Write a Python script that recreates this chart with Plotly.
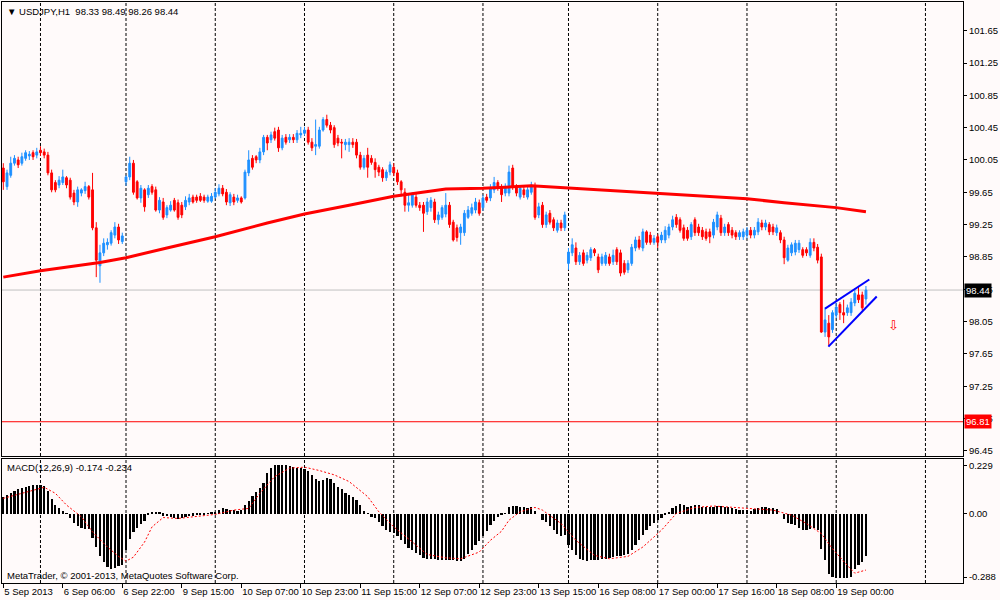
import plotly.graph_objects as go
from plotly.subplots import make_subplots

# ------------------------
# USDJPY H1 candles (one entry per bar)
# ------------------------

opens = [
    99.95, 99.72, 99.86, 100.01, 100.05, 100.01, 100.07, 100.10, 100.14, 100.11,
    100.17, 100.15, 100.11, 99.89, 99.77, 99.74, 99.77, 99.83, 99.80, 99.64,
    99.53, 99.64, 99.67, 99.72, 99.68, 99.21, 98.74, 98.90, 99.00, 99.02,
    99.12, 99.22, 99.04, 99.78, 99.84, 100.01, 99.78, 99.58, 99.68, 99.62,
    99.72, 99.68, 99.43, 99.53, 99.37, 99.43, 99.55, 99.52, 99.49, 99.47,
    99.53, 99.59, 99.59, 99.60, 99.59, 99.54, 99.54, 99.59, 99.63, 99.70,
    99.65, 99.52, 99.59, 99.55, 99.58, 99.58, 99.89, 100.07, 100.09, 100.05,
    100.15, 100.33, 100.30, 100.40, 100.42, 100.20, 100.33, 100.30, 100.33, 100.30,
    100.36, 100.38, 100.42, 100.27, 100.22, 100.22, 100.42, 100.55, 100.48, 100.45,
    100.32, 100.27, 100.24, 100.24, 100.27, 100.27, 100.11, 99.96, 100.11, 100.07,
    100.02, 99.96, 99.93, 99.83, 99.90, 99.96, 99.89, 99.78, 99.65, 99.49,
    99.49, 99.59, 99.49, 99.49, 99.41, 99.46, 99.53, 99.31, 99.34, 99.38,
    99.49, 99.28, 99.21, 99.15, 99.15, 99.34, 99.39, 99.43, 99.52, 99.46,
    99.59, 99.58, 99.68, 99.77, 99.72, 99.64, 99.64, 99.95, 99.72, 99.59,
    99.68, 99.59, 99.65, 99.72, 99.37, 99.49, 99.25, 99.39, 99.31, 99.18,
    99.27, 99.21, 98.77, 98.90, 98.96, 98.79, 98.90, 98.81, 98.84, 98.94,
    98.85, 98.77, 98.77, 98.85, 98.79, 98.94, 98.90, 98.77, 98.69, 98.77,
    98.96, 99.06, 98.96, 99.16, 99.12, 99.03, 99.10, 99.06, 99.06, 99.12,
    99.22, 99.34, 99.31, 99.21, 99.18, 99.10, 99.31, 99.22, 99.18, 99.16,
    99.16, 99.12, 99.22, 99.33, 99.15, 99.25, 99.18, 99.15, 99.10, 99.10,
    99.12, 99.18, 99.12, 99.16, 99.27, 99.22, 99.25, 99.22, 99.15, 99.15,
    99.06, 98.81, 98.90, 98.91, 98.94, 98.94, 98.94, 98.87, 99.03, 98.97,
    98.85, 97.92, 98.03, 97.95, 98.13, 98.26, 98.16, 98.16, 98.16, 98.28,
    98.38, 98.38, 98.33,
]

highs = [
    100.01, 99.93, 100.09, 100.11, 100.09, 100.14, 100.17, 100.16, 100.17, 100.20,
    100.22, 100.19, 100.15, 99.93, 99.80, 99.85, 99.93, 99.85, 99.83, 99.68,
    99.72, 99.70, 99.78, 99.74, 99.89, 99.28, 99.00, 99.08, 99.08, 99.18,
    99.28, 99.26, 99.15, 99.86, 100.09, 100.05, 99.80, 99.74, 99.70, 99.74,
    99.75, 99.72, 99.59, 99.58, 99.49, 99.54, 99.58, 99.56, 99.53, 99.60,
    99.63, 99.62, 99.62, 99.64, 99.62, 99.62, 99.64, 99.70, 99.75, 99.74,
    99.69, 99.65, 99.63, 99.62, 99.60, 99.93, 100.17, 100.11, 100.11, 100.20,
    100.36, 100.36, 100.40, 100.45, 100.46, 100.36, 100.37, 100.37, 100.37, 100.42,
    100.46, 100.46, 100.46, 100.32, 100.55, 100.46, 100.58, 100.61, 100.52, 100.48,
    100.36, 100.31, 100.31, 100.32, 100.32, 100.31, 100.15, 100.11, 100.20, 100.11,
    100.07, 99.99, 99.96, 99.93, 100.03, 100.01, 99.93, 99.80, 99.70, 99.62,
    99.65, 99.63, 99.53, 99.53, 99.58, 99.59, 99.57, 99.41, 99.49, 99.64,
    99.53, 99.31, 99.25, 99.26, 99.43, 99.48, 99.51, 99.58, 99.56, 99.62,
    99.63, 99.75, 99.84, 99.80, 99.75, 99.76, 99.98, 99.99, 99.75, 99.74,
    99.72, 99.72, 99.78, 99.77, 99.52, 99.53, 99.41, 99.43, 99.34, 99.31,
    99.31, 99.41, 98.96, 99.08, 99.03, 98.91, 98.94, 98.91, 98.97, 98.96,
    98.89, 98.89, 98.91, 98.89, 98.94, 98.97, 98.94, 98.81, 98.81, 99.01,
    99.10, 99.11, 99.20, 99.18, 99.16, 99.12, 99.13, 99.16, 99.23, 99.26,
    99.36, 99.38, 99.34, 99.25, 99.22, 99.28, 99.34, 99.26, 99.22, 99.20,
    99.20, 99.32, 99.41, 99.37, 99.26, 99.28, 99.22, 99.18, 99.18, 99.20,
    99.22, 99.22, 99.22, 99.33, 99.31, 99.31, 99.28, 99.26, 99.25, 99.18,
    99.10, 99.00, 99.03, 99.06, 99.06, 98.97, 98.97, 99.08, 99.08, 99.01,
    98.89, 98.22, 98.13, 98.19, 98.28, 98.29, 98.32, 98.26, 98.34, 98.44,
    98.48, 98.42, 98.49,
]

lows = [
    99.68, 99.68, 99.83, 99.98, 99.95, 99.98, 100.04, 100.05, 100.05, 100.07,
    100.10, 100.07, 99.86, 99.65, 99.65, 99.70, 99.74, 99.70, 99.56, 99.49,
    99.47, 99.60, 99.63, 99.56, 99.18, 98.60, 98.53, 98.86, 98.94, 98.99,
    99.08, 99.01, 99.01, 99.73, 99.80, 99.62, 99.56, 99.52, 99.41, 99.58,
    99.62, 99.41, 99.39, 99.31, 99.33, 99.41, 99.41, 99.31, 99.33, 99.43,
    99.49, 99.51, 99.52, 99.53, 99.52, 99.52, 99.52, 99.57, 99.60, 99.60,
    99.49, 99.48, 99.49, 99.52, 99.51, 99.56, 99.85, 99.93, 100.01, 100.01,
    100.11, 100.17, 100.26, 100.29, 100.15, 100.17, 100.24, 100.26, 100.26, 100.26,
    100.32, 100.35, 100.24, 100.16, 100.11, 100.19, 100.40, 100.45, 100.38, 100.20,
    100.22, 100.07, 100.17, 100.15, 100.20, 100.07, 99.93, 99.93, 99.83, 99.99,
    99.83, 99.85, 99.78, 99.79, 99.86, 99.85, 99.74, 99.60, 99.41, 99.41,
    99.46, 99.46, 99.42, 99.16, 99.37, 99.41, 99.27, 99.25, 99.31, 99.34,
    99.21, 99.04, 99.04, 99.00, 99.11, 99.32, 99.36, 99.39, 99.36, 99.42,
    99.52, 99.54, 99.64, 99.67, 99.53, 99.60, 99.60, 99.68, 99.60, 99.56,
    99.58, 99.56, 99.62, 99.31, 99.33, 99.21, 99.21, 99.25, 99.17, 99.15,
    99.17, 99.17, 98.69, 98.86, 98.75, 98.75, 98.74, 98.77, 98.80, 98.86,
    98.65, 98.74, 98.74, 98.74, 98.75, 98.75, 98.61, 98.63, 98.65, 98.74,
    98.92, 98.94, 98.92, 99.00, 99.00, 99.00, 98.96, 99.02, 99.02, 99.08,
    99.18, 99.21, 99.15, 99.05, 99.05, 99.06, 99.11, 99.11, 99.06, 99.05,
    99.02, 99.08, 99.18, 99.11, 99.11, 99.11, 99.08, 99.06, 99.06, 99.06,
    99.08, 99.08, 99.08, 99.12, 99.18, 99.18, 99.12, 99.12, 99.11, 99.02,
    98.76, 98.79, 98.86, 98.87, 98.90, 98.84, 98.86, 98.84, 98.92, 98.77,
    97.91, 97.86, 97.75, 97.91, 98.09, 98.07, 98.03, 98.12, 98.12, 98.24,
    98.28, 98.19, 98.26,
]

closes = [
    99.78, 99.89, 100.01, 100.07, 99.99, 100.09, 100.14, 100.12, 100.09, 100.15,
    100.14, 100.11, 99.89, 99.68, 99.68, 99.80, 99.84, 99.74, 99.59, 99.53,
    99.68, 99.68, 99.72, 99.59, 99.21, 98.81, 98.90, 99.02, 99.03, 99.15,
    99.22, 99.06, 99.11, 99.84, 100.01, 99.65, 99.58, 99.70, 99.47, 99.70,
    99.65, 99.43, 99.55, 99.34, 99.46, 99.49, 99.43, 99.34, 99.37, 99.55,
    99.58, 99.53, 99.55, 99.55, 99.55, 99.59, 99.60, 99.65, 99.70, 99.63,
    99.53, 99.62, 99.53, 99.58, 99.53, 99.90, 100.05, 99.96, 100.05, 100.15,
    100.33, 100.26, 100.36, 100.32, 100.20, 100.32, 100.27, 100.33, 100.30, 100.38,
    100.38, 100.42, 100.27, 100.20, 100.24, 100.42, 100.55, 100.48, 100.42, 100.24,
    100.26, 100.26, 100.27, 100.27, 100.24, 100.11, 99.96, 100.07, 99.96, 100.02,
    99.93, 99.90, 99.83, 99.90, 99.99, 99.89, 99.78, 99.68, 99.49, 99.52,
    99.62, 99.49, 99.46, 99.39, 99.53, 99.55, 99.31, 99.37, 99.46, 99.49,
    99.25, 99.06, 99.09, 99.22, 99.39, 99.43, 99.46, 99.53, 99.39, 99.58,
    99.55, 99.70, 99.77, 99.70, 99.62, 99.72, 99.90, 99.72, 99.64, 99.70,
    99.62, 99.68, 99.74, 99.34, 99.47, 99.25, 99.37, 99.28, 99.21, 99.27,
    99.21, 99.37, 98.91, 99.00, 98.79, 98.87, 98.77, 98.87, 98.94, 98.90,
    98.69, 98.85, 98.87, 98.77, 98.87, 98.79, 98.65, 98.66, 98.77, 98.97,
    99.06, 98.97, 99.16, 99.03, 99.03, 99.08, 99.03, 99.12, 99.18, 99.22,
    99.31, 99.25, 99.18, 99.08, 99.08, 99.25, 99.15, 99.15, 99.10, 99.08,
    99.10, 99.28, 99.37, 99.15, 99.22, 99.15, 99.12, 99.10, 99.15, 99.16,
    99.18, 99.12, 99.18, 99.28, 99.22, 99.27, 99.16, 99.16, 99.21, 99.06,
    98.84, 98.96, 99.00, 99.02, 99.02, 98.87, 98.90, 99.03, 98.96, 98.81,
    97.92, 98.07, 97.86, 98.16, 98.23, 98.16, 98.13, 98.22, 98.29, 98.40,
    98.32, 98.22, 98.44,
]

# slow moving average, read at a few bars
ma_bars = [0, 10, 26, 33, 44, 57, 71, 81, 93, 105, 119, 129, 142, 153, 162, 174, 200, 210, 224, 232]
ma_values = [98.60, 98.68, 98.78, 98.84, 98.96, 99.10, 99.27, 99.38, 99.49, 99.60,
             99.69, 99.70, 99.73, 99.70, 99.67, 99.64, 99.57, 99.52, 99.46, 99.41]

# ------------------------
# MACD(12,26,9)
# ------------------------

macd_hist = [
    0.072, 0.079, 0.089, 0.097, 0.103, 0.110, 0.114, 0.117, 0.120, 0.121, 0.122,
    0.117, 0.097, 0.061, 0.037, 0.023, 0.012, 0.002, -0.019, -0.037, -0.051,
    -0.058, -0.061, -0.061, -0.099, -0.138, -0.177, -0.201, -0.222, -0.229, -0.225,
    -0.219, -0.215, -0.152, -0.103, -0.075, -0.057, -0.040, -0.029, -0.006, 0.005,
    0.010, 0.004, -0.008, -0.010, -0.012, -0.015, -0.020, -0.015, -0.012, -0.010,
    -0.008, -0.006, -0.004, -0.002, 0.002, 0.006, 0.010, 0.018, 0.024, 0.020,
    0.016, 0.016, 0.014, 0.016, 0.036, 0.055, 0.075, 0.092, 0.110, 0.130,
    0.170, 0.191, 0.202, 0.206, 0.206, 0.202, 0.198, 0.195, 0.191, 0.191,
    0.188, 0.177, 0.163, 0.145, 0.139, 0.141, 0.149, 0.145, 0.128, 0.114,
    0.103, 0.089, 0.079, 0.069, 0.058, 0.037, 0.013, 0.002, -0.012, -0.019,
    -0.033, -0.051, -0.068, -0.075, -0.079, -0.093, -0.110, -0.124, -0.141, -0.152,
    -0.163, -0.173, -0.183, -0.187, -0.187, -0.187, -0.191, -0.191, -0.191, -0.194,
    -0.194, -0.196, -0.197, -0.187, -0.169, -0.152, -0.131, -0.113, -0.093, -0.071,
    -0.047, -0.029, -0.012,
    -0.003, 0.003, 0.030, 0.032, 0.032, 0.030, 0.027,
    0.023, 0.030, 0.014, 0.000, -0.026, -0.033, -0.051, -0.068, -0.082, -0.093,
    -0.089, -0.131, -0.152, -0.173, -0.187, -0.194, -0.197, -0.194, -0.191, -0.191,
    -0.187, -0.187, -0.183, -0.180, -0.177, -0.177, -0.173, -0.166, -0.152, -0.131,
    -0.110, -0.089, -0.068, -0.051, -0.037, -0.026, -0.019, -0.005, 0.009, 0.023,
    0.032, 0.041, 0.037, 0.027, 0.032, 0.037, 0.037, 0.030, 0.027, 0.027,
    0.030, 0.034, 0.034, 0.030, 0.027, 0.023, 0.019, 0.016, 0.016, 0.016,
    0.013, 0.019, 0.023, 0.027, 0.027, 0.023, 0.023, 0.019, 0.000, -0.023,
    -0.037, -0.043, -0.047, -0.057, -0.065, -0.068, -0.061, -0.057, -0.068, -0.145,
    -0.194, -0.250, -0.261, -0.267, -0.267, -0.267, -0.267, -0.261, -0.229, -0.215,
    -0.201, -0.174,
]

signal_bars = [0, 5, 8, 11, 14, 17, 21, 24, 28, 31, 33, 35, 38, 40, 43, 47, 51, 57, 62, 66,
               69, 73, 77, 81, 85, 89, 93, 98, 101, 105, 110, 114, 119, 123, 128, 131, 134, 136, 139, 143,
               145, 150, 154, 159, 163, 168, 172, 177, 181, 186, 191, 197, 202, 207, 212, 216, 220, 223, 227, 229,
               232]
signal_values = [0.065, 0.086, 0.100, 0.111, 0.086, 0.037, -0.012, -0.075, -0.138, -0.177,
                 -0.197, -0.180, -0.117, -0.054, -0.015, -0.019, -0.012, -0.002, 0.016, 0.023,
                 0.086, 0.156, 0.191, 0.195, 0.181, 0.163, 0.135, 0.072, 0.009, -0.054,
                 -0.117, -0.169, -0.183, -0.187, -0.159, -0.110, -0.072, -0.026, 0.009, 0.027,
                 0.016, -0.040, -0.110, -0.173, -0.187, -0.177, -0.138, -0.068, 0.002, 0.027,
                 0.033, 0.027, 0.019, 0.016, -0.005, -0.040, -0.082, -0.145, -0.215, -0.247,
                 -0.234]

# ------------------------
# Axes labels and drawings
# ------------------------

time_tick_bars = [0, 16, 32, 48, 64, 80, 96, 112, 128, 144, 160, 176, 192, 208, 224]
time_tick_text = ["5 Sep 2013", "6 Sep 06:00", "6 Sep 22:00", "9 Sep 15:00", "10 Sep 07:00",
                  "10 Sep 23:00", "11 Sep 15:00", "12 Sep 07:00", "12 Sep 23:00", "13 Sep 15:00",
                  "16 Sep 08:00", "17 Sep 00:00", "17 Sep 16:00", "18 Sep 08:00", "19 Sep 00:00"]
grid_bars = [10, 33, 57, 81, 105, 129, 152, 176, 200, 224, 248]

price_ticks = [96.45, 96.85, 97.25, 97.65, 98.05, 98.45, 98.85, 99.25, 99.65,
               100.05, 100.45, 100.85, 101.25, 101.65]
macd_tick_pos = [0.200, 0.0, -0.263]
macd_tick_text = ["0.229", "0.00", "-0.288"]

support_level = 96.81
wedge_upper_bars = [221.0, 232.9]
wedge_upper_values = [98.21, 98.57]
wedge_lower_bars = [221.9, 234.9]
wedge_lower_values = [97.74, 98.36]
arrow_bar = 239.3
arrow_price = 98.00

bars = list(range(len(closes)))
BG = "#FFFAFA"
FONT = "Liberation Sans"

fig = make_subplots(rows=2, cols=1, shared_xaxes=True)

fig.add_trace(
    go.Candlestick(
        x=bars, open=opens, high=highs, low=lows, close=closes,
        increasing=dict(line=dict(color="#1E90FF", width=1), fillcolor="#1E90FF"),
        decreasing=dict(line=dict(color="#FF0000", width=1), fillcolor="#FF0000"),
        whiskerwidth=0,
        showlegend=False,
    ),
    row=1, col=1,
)

fig.add_trace(
    go.Scatter(x=ma_bars, y=ma_values, mode="lines",
               line=dict(color="#FF0000", width=3), showlegend=False),
    row=1, col=1,
)

for wx, wy in [(wedge_upper_bars, wedge_upper_values), (wedge_lower_bars, wedge_lower_values)]:
    fig.add_trace(
        go.Scatter(x=wx, y=wy, mode="lines",
                   line=dict(color="#0000FF", width=2), showlegend=False),
        row=1, col=1,
    )

fig.add_trace(
    go.Bar(x=bars, y=macd_hist, width=0.6, marker=dict(color="#000000", line=dict(width=0)),
           showlegend=False),
    row=2, col=1,
)

fig.add_trace(
    go.Scatter(x=signal_bars, y=signal_values, mode="lines",
               line=dict(color="#FF0000", width=1, dash="2px,2px"), showlegend=False),
    row=2, col=1,
)

# ------------------------
# Lines across the panels
# ------------------------

for gb in grid_bars:
    for yref in ["y domain", "y2 domain"]:
        fig.add_shape(type="line", xref="x", yref=yref, x0=gb, x1=gb, y0=0, y1=1,
                      line=dict(color="#000000", width=1, dash="3px,2px"), layer="below")

fig.add_shape(type="line", xref="x domain", yref="y", x0=0, x1=1,
              y0=closes[-1], y1=closes[-1], line=dict(color="#C0C0C0", width=1), layer="below")
fig.add_shape(type="line", xref="x domain", yref="y", x0=0, x1=1,
              y0=support_level, y1=support_level, line=dict(color="#FF0000", width=1))

# ------------------------
# Texts
# ------------------------

sp = "\u00a0"
header = f"▼ USDJPY,H1{sp}{sp}{opens[-1]:.2f} {highs[-1]:.2f} {lows[-1]:.2f} {closes[-1]:.2f}"
fig.add_annotation(text=header, xref="paper", yref="paper", x=0, y=1, xanchor="left",
                   yanchor="top", xshift=3, yshift=-2, showarrow=False,
                   font=dict(family=FONT, size=9.5, color="#000000"))
fig.add_annotation(text=f"MACD(12,26,9) {macd_hist[-1]:.3f} {signal_values[-1]:.3f}",
                   xref="paper", yref="y2 domain", x=0, y=1, xanchor="left", yanchor="top",
                   xshift=3, yshift=-1, showarrow=False,
                   font=dict(family=FONT, size=9.5, color="#000000"))
fig.add_annotation(text="MetaTrader, © 2001-2013, MetaQuotes Software Corp.",
                   xref="paper", yref="y2 domain", x=0, y=0, xanchor="left", yanchor="bottom",
                   xshift=3, yshift=0, showarrow=False,
                   font=dict(family=FONT, size=9.5, color="#000000"))

fig.add_annotation(text=f"{closes[-1]:.2f}", xref="paper", yref="y", x=1, y=closes[-1],
                   xanchor="left", yanchor="middle", xshift=1, showarrow=False,
                   bgcolor="#000000", borderpad=1,
                   font=dict(family=FONT, size=9.5, color="#FFFFFF"))
fig.add_annotation(text=f"{support_level:.2f}", xref="paper", yref="y", x=1, y=support_level,
                   xanchor="left", yanchor="middle", xshift=1, showarrow=False,
                   bgcolor="#FF0000", borderpad=1,
                   font=dict(family=FONT, size=9.5, color="#FFFFFF"))
fig.add_annotation(text="⇩", xref="x", yref="y", x=arrow_bar, y=arrow_price,
                   showarrow=False, font=dict(family="DejaVu Sans", size=13, color="#FF0000"))

axis_common = dict(showline=True, mirror=True, linecolor="#000000", linewidth=1,
                   showgrid=False, zeroline=False, range=[-0.35, 258.1], automargin=False)

fig.update_layout(
    width=1000, height=600,
    margin=dict(l=2, r=37, t=2, b=17),
    paper_bgcolor=BG, plot_bgcolor=BG,
    font=dict(family=FONT, size=9.5, color="#000000"),
    bargap=0,
    xaxis=dict(**axis_common, showticklabels=False, ticks="", rangeslider=dict(visible=False)),
    xaxis2=dict(**axis_common, tickmode="array", tickvals=time_tick_bars, ticktext=time_tick_text,
                ticks="outside", ticklen=4, tickcolor="#000000", tickangle=0,
                ticklabelposition="outside right"),
    yaxis=dict(domain=[0.2186, 1], side="right", range=[96.386, 102.005], automargin=False,
               tickmode="array", tickvals=price_ticks, ticktext=[f"{t:.2f}" for t in price_ticks],
               ticks="outside", ticklen=3, tickcolor="#000000",
               showline=True, mirror=True, linecolor="#000000", showgrid=False, zeroline=False),
    yaxis2=dict(domain=[0, 0.2134], side="right", range=[-0.288, 0.229], automargin=False,
                tickmode="array", tickvals=macd_tick_pos, ticktext=macd_tick_text,
                ticks="outside", ticklen=3, tickcolor="#000000",
                showline=True, mirror=True, linecolor="#000000", showgrid=False, zeroline=False),
)

# page without the default body margin, so the 1000x600 figure fills the window
fig.write_html("out.html", config={"displayModeBar": False},
               post_script="document.body.style.margin='0';")
